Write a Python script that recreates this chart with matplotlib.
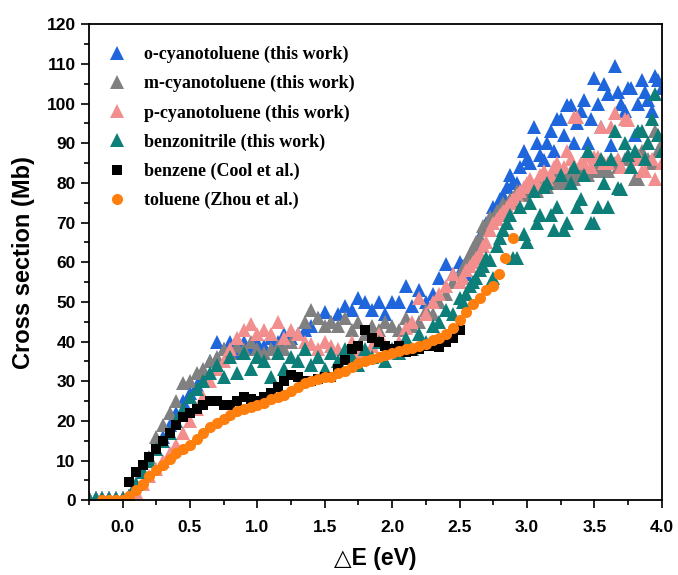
import matplotlib
matplotlib.use("Agg")
import matplotlib.pyplot as plt
from matplotlib.ticker import MultipleLocator

# ---- data ----
energy = [-0.25, -0.2, -0.15, -0.1, -0.05, 0.0,
          0.05, 0.1, 0.15, 0.2, 0.25, 0.3, 0.35, 0.4, 0.45, 0.5,
          0.55, 0.6, 0.65, 0.7, 0.75, 0.8, 0.85, 0.9, 0.95, 1.0,
          1.05, 1.1, 1.15, 1.2, 1.25, 1.3, 1.35, 1.4, 1.45, 1.5,
          1.55, 1.6, 1.65, 1.7, 1.75, 1.8, 1.85, 1.9, 1.95, 2.0,
          2.05, 2.1, 2.15, 2.2, 2.25, 2.3, 2.35, 2.4, 2.45, 2.5,
          2.55, 2.6, 2.65, 2.7, 2.75, 2.8, 2.85, 2.9, 2.95, 3.0,
          3.05, 3.1, 3.15, 3.2, 3.25, 3.3, 3.35, 3.4, 3.45, 3.5,
          3.55, 3.6, 3.65, 3.7, 3.75, 3.8, 3.85, 3.9, 3.95, 4.0]

# additional points of the dense high-energy part
energy_hi = [2.525, 2.575, 2.625, 2.675, 2.725, 2.775, 2.825, 2.875, 2.925, 2.975,
             3.025, 3.075, 3.125, 3.175, 3.225, 3.275, 3.325, 3.375, 3.425, 3.475,
             3.525, 3.575, 3.625, 3.675, 3.725, 3.775, 3.825, 3.875, 3.925, 3.975]

o_cyanotoluene = [0.5, 0.5, 0.5, 0.5, 0.5, 0.5,
                  1, 4, 7, 10, 13, 16, 19, 22, 25, 27,
                  29, 31, 35, 40, 38, 40, 37, 40, 38, 40,
                  39, 41, 40, 42, 41, 42, 43, 44, 46, 47.5,
                  45, 47, 49, 48, 51, 50, 48, 50, 47, 50,
                  50, 54, 49, 53, 50, 52, 56, 59.5, 57, 60,
                  57, 62, 66, 70, 74, 76, 79, 80, 84, 86,
                  94, 87, 90, 88, 96, 99.5, 90, 98, 90, 106.5,
                  94, 102.5, 109.5, 100, 104, 92, 106, 101, 107, 104]
o_cyanotoluene_hi = [59, 61, 64, 68, 71, 74, 77, 82, 80, 88,
                     85, 90, 85.7, 93, 96, 92, 99.6, 95, 101, 96,
                     100, 105, 89.5, 103, 98, 104, 100, 103, 98, 106]

m_cyanotoluene = [0.5, 0.5, 0.5, 0.5, 0.5, 0.5,
                  1, 4, 7, 11, 16, 19, 22, 25, 29.5, 30,
                  32, 33, 35, 36, 38, 37, 39, 38, 40, 38,
                  37, 38, 39, 38, 40, 42, 45, 48, 46, 44,
                  45, 44, 46, 43, 45, 42, 44, 43, 45, 44,
                  43, 46, 44, 45, 48, 47, 50, 52, 55, 57,
                  60, 63.5, 66, 68, 71, 73, 74, 75, 77, 78,
                  79, 80, 79, 81, 80, 82, 81, 83, 82, 83,
                  84, 83, 85, 84, 86, 81, 88, 86, 93, 90]
m_cyanotoluene_hi = [58, 62, 65, 69, 71.4, 73, 75, 76, 78, 77,
                     79, 78, 81, 80, 82, 81, 83, 82, 84, 83,
                     85, 83, 85, 84, 86, 84, 81, 86, 85, 88]

p_cyanotoluene = [0.5, 0.5, 0.5, 0.5, 0.5, 0.5,
                  0.5, 2, 4, 6, 8, 10, 12, 14, 17, 20,
                  23, 26, 30, 33, 35, 38, 41, 43, 44.5, 42,
                  43, 42, 45, 41, 43, 42, 40, 39.5, 38, 40,
                  39, 38, 37, 40, 37, 36, 39, 42, 37, 38,
                  40, 43.5, 45, 51, 47, 50, 52, 54, 57, 55,
                  58, 60, 62, 65, 70, 72, 74, 76, 78, 80,
                  79, 82, 81, 84, 82, 88, 96.5, 85, 87, 86.5,
                  94, 85, 97.5, 84, 95.8, 86, 83, 90, 81, 85]
p_cyanotoluene_hi = [56, 59, 61, 64, 68, 71, 73, 75, 77, 79,
                     81, 80, 83, 82, 85, 84, 86, 96.5, 85, 84,
                     86.5, 85, 94, 86, 96, 84, 87, 83, 86, 92]

benzonitrile = [0.5, 0.5, 0.5, 0.5, 0.5, 0.5,
                1, 4, 7, 10, 13, 15, 17, 20, 23, 26,
                28, 30, 32, 34, 31, 36, 32, 37, 33, 36,
                35, 31, 37, 33, 36, 35, 38, 34, 36, 33,
                37, 35, 38, 36, 34, 38, 36, 40, 35, 38,
                37, 41, 38, 42, 40, 44, 45, 48, 47, 51,
                52, 55, 58, 61, 56, 66, 70, 61, 74, 65,
                78, 72, 80, 68, 82, 70, 84, 76, 88, 70,
                86, 74, 93, 78.5, 87, 88, 93, 90, 102.5, 88]
benzonitrile_hi = [50, 54, 56, 59, 60.5, 64, 68, 72, 61, 67,
                   75, 70, 79, 72, 74, 68, 80, 74, 82, 70,
                   74, 80, 86, 78.6, 90, 84, 93, 86, 96, 92]

benzene_energy = [0.05, 0.1, 0.15, 0.2, 0.25, 0.3, 0.35, 0.4, 0.45, 0.5,
                  0.55, 0.6, 0.65, 0.7, 0.75, 0.8, 0.85, 0.9, 0.95, 1.0,
                  1.05, 1.1, 1.15, 1.2, 1.25, 1.3, 1.35, 1.4, 1.45, 1.5,
                  1.55, 1.6, 1.65, 1.7, 1.75, 1.8, 1.85, 1.9, 1.95, 2.0,
                  2.05, 2.1, 2.15, 2.2, 2.25, 2.3, 2.35, 2.4, 2.45, 2.5]
benzene = [4.5, 7, 9, 11, 13, 15, 17, 19, 21, 22,
           23, 24, 25, 25, 24, 24, 25, 26, 25.5, 25,
           26, 27, 28.5, 30, 31.5, 31, 30, 30, 30.5, 31,
           31, 33, 35.3, 38, 39, 43, 41, 40, 39, 38,
           39, 37.3, 37.5, 38, 39, 39, 38.6, 40, 41, 42.8]

toluene_energy = [-0.15, -0.1, -0.05, 0.0,
                  0.05, 0.1, 0.15, 0.2, 0.25, 0.3, 0.35, 0.4, 0.45, 0.5,
                  0.55, 0.6, 0.65, 0.7, 0.75, 0.8, 0.85, 0.9, 0.95, 1.0,
                  1.05, 1.1, 1.15, 1.2, 1.25, 1.3, 1.35, 1.4, 1.45, 1.5,
                  1.55, 1.6, 1.65, 1.7, 1.75, 1.8, 1.85, 1.9, 1.95, 2.0,
                  2.05, 2.1, 2.15, 2.2, 2.25, 2.3, 2.35, 2.4, 2.45, 2.5,
                  2.55, 2.6, 2.65, 2.7, 2.75, 2.79, 2.84, 2.9]
toluene = [0, 0, 0, 0,
           1, 2.5, 4, 6, 7.5, 9, 10.5, 12, 13, 14,
           15.5, 17, 18.5, 19.5, 20.5, 21.5, 22.5, 23, 23.5, 24,
           24.5, 25.5, 26, 26.5, 27.5, 28.5, 29.5, 30, 30.5, 31,
           31, 32, 32.5, 33.5, 34.5, 35, 35.5, 36, 36.5, 37,
           37.5, 38, 38.5, 39, 39.5, 40.5, 41, 42, 43.5, 45.5,
           47.5, 49.5, 51, 53, 54, 57, 61, 66]

labels = ["o-cyanotoluene (this work)", "m-cyanotoluene (this work)",
          "p-cyanotoluene (this work)", "benzonitrile (this work)",
          "benzene (Cool et al.)", "toluene (Zhou et al.)"]
colors = ["#1f66dc", "#808080", "#f28e8e", "#0e7f78", "#000000", "#ff7f0e"]

# ---- figure ----
fig = plt.figure(figsize=(6.78, 5.75), dpi=100)
ax = fig.add_axes([0.131, 0.130, 0.845, 0.828])

tri = dict(marker="^", linestyle="none", markersize=9.5, markeredgewidth=0)
ax.plot(energy + energy_hi, o_cyanotoluene + o_cyanotoluene_hi,
        color=colors[0], label=labels[0], **tri)
ax.plot(energy + energy_hi, m_cyanotoluene + m_cyanotoluene_hi,
        color=colors[1], label=labels[1], **tri)
ax.plot(energy + energy_hi, p_cyanotoluene + p_cyanotoluene_hi,
        color=colors[2], label=labels[2], **tri)
ax.plot(energy + energy_hi, benzonitrile + benzonitrile_hi,
        color=colors[3], label=labels[3], **tri)
ax.plot(benzene_energy, benzene, color=colors[4], marker="s", linestyle="none",
        markersize=7.5, markeredgewidth=0, label=labels[4])
ax.plot(toluene_energy, toluene, color=colors[5], marker="o", linestyle="none",
        markersize=8, markeredgewidth=0, label=labels[5])

ax.set_xlim(-0.25, 4.0)
ax.set_ylim(0, 120)
ax.set_xticks([0.0, 0.5, 1.0, 1.5, 2.0, 2.5, 3.0, 3.5, 4.0])
ax.set_xticklabels(["0.0", "0.5", "1.0", "1.5", "2.0", "2.5", "3.0", "3.5", "4.0"])
ax.xaxis.set_minor_locator(MultipleLocator(0.25))
ax.yaxis.set_major_locator(MultipleLocator(10))
ax.yaxis.set_minor_locator(MultipleLocator(5))
ax.tick_params(which="both", direction="out", top=False, right=False, width=1.2)
ax.tick_params(which="major", length=6)
ax.tick_params(which="minor", length=3.5)
ax.tick_params(axis="x", pad=8)
for lab in ax.get_xticklabels() + ax.get_yticklabels():
    lab.set_fontfamily("Liberation Sans")
    lab.set_fontweight("bold")
    lab.set_fontsize(12.5)
for sp in ax.spines.values():
    sp.set_linewidth(1.3)

ax.set_xlabel("\u25b3E (eV)", fontfamily=["Liberation Sans", "DejaVu Sans"],
              fontweight="bold", fontsize=16.5, labelpad=9)
ax.set_ylabel("Cross section (Mb)", fontfamily="Liberation Sans",
              fontweight="bold", fontsize=17, labelpad=8)

leg = ax.legend(loc="upper left", bbox_to_anchor=(0.0, 0.985), frameon=False,
                prop={"family": "Liberation Serif", "weight": "bold", "size": 13},
                handletextpad=0.75, labelspacing=0.66, handlelength=1.5,
                borderaxespad=0.4)

fig.savefig("out.png", dpi=100)
